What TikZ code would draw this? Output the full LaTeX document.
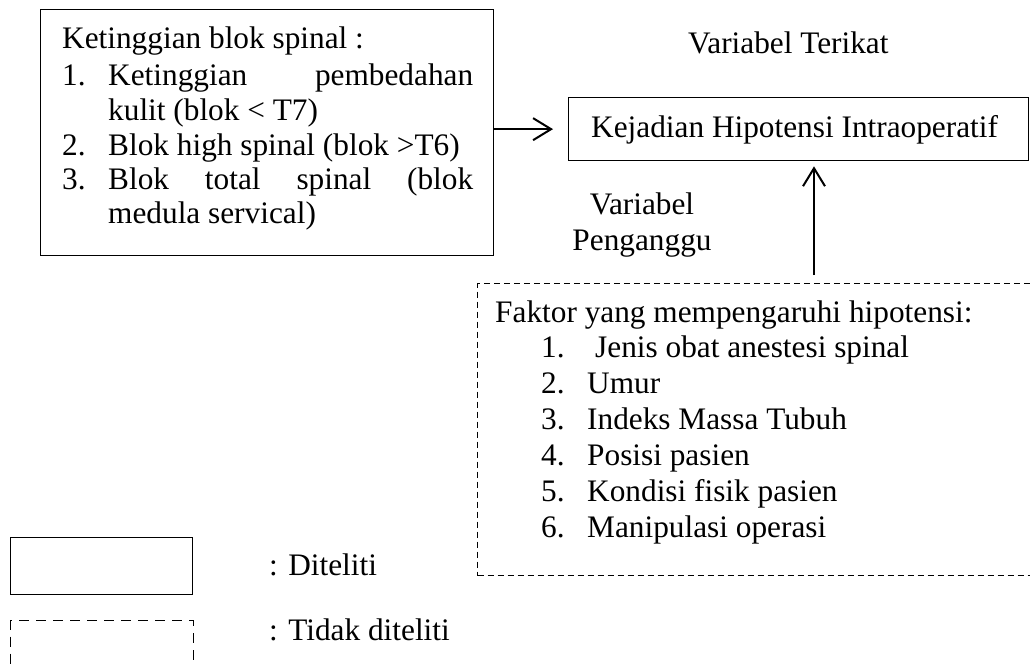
\documentclass[tikz,border=0pt]{standalone}
\usepackage{fontspec}
\setmainfont{Liberation Serif}
\usetikzlibrary{arrows.meta}
\begin{document}
\begin{tikzpicture}[x=1pt,y=-1pt,
  txt/.style={anchor=base west, inner sep=0pt, font=\fontsize{31.3}{36}\selectfont},
  box/.style={draw, line width=1.3pt, inner sep=0pt, anchor=north west},
  dbox/.style={draw, line width=1.1pt, dash pattern=on 6pt off 4pt, inner sep=0pt, anchor=north west},
  ldbox/.style={draw, line width=1.3pt, dash pattern=on 10pt off 7pt, inner sep=0pt, anchor=north west},
  arr/.style={line width=2pt, -{Straight Barb[length=18pt,width=22pt,line width=2pt]}}
]
\path[use as bounding box, clip] (0,0) rectangle (1030,665);
% boxes
\node[box, minimum width=453pt, minimum height=246pt] (lb) at (40,9) {};
\node[box, minimum width=460pt, minimum height=63pt] (rb) at (568,97) {};
\node[dbox, minimum width=560pt, minimum height=292pt] (fb) at (477,283) {};
\node[box, minimum width=182pt, minimum height=57pt] (lg1) at (10,537) {};
\node[ldbox, minimum width=183pt, minimum height=60pt] (lg2) at (10,620) {};
% left box text
\node[txt] (l0) at (62,48) {Ketinggian blok spinal :};
\node[txt] (l1n) at (62,85) {1.};
\node[txt] (l1) at (108,85) {\makebox[365pt][s]{Ketinggian pembedahan}};
\node[txt] (l1b) at (108,120) {kulit (blok < T7)};
\node[txt] (l2n) at (62,155) {2.};
\node[txt] (l2) at (108,155) {Blok high spinal (blok >T6)};
\node[txt] (l3n) at (62,189) {3.};
\node[txt] (l3) at (108,189) {\makebox[365pt][s]{Blok total spinal (blok}};
\node[txt] (l3b) at (108,223) {medula servical)};
% right texts
\node[txt] (vt) at (688,53) {Variabel Terikat};
\node[txt] (kj) at (591,137) {Kejadian Hipotensi Intraoperatif};
\node[txt, anchor=base] (vp1) at (642,214) {Variabel};
\node[txt, anchor=base] (vp2) at (642,250) {Penganggu};
% factor list
\node[txt] (f0) at (495,322) {Faktor yang mempengaruhi hipotensi:};
\node[txt] (f1n) at (541,357) {1.};
\node[txt] (f1) at (595,357) {Jenis obat anestesi spinal};
\node[txt] (f2n) at (541,393) {2.};
\node[txt] (f2) at (587,393) {Umur};
\node[txt] (f3n) at (541,429) {3.};
\node[txt] (f3) at (587,429) {Indeks Massa Tubuh};
\node[txt] (f4n) at (541,465) {4.};
\node[txt] (f4) at (587,465) {Posisi pasien};
\node[txt] (f5n) at (541,501) {5.};
\node[txt] (f5) at (587,501) {Kondisi fisik pasien};
\node[txt] (f6n) at (541,537) {6.};
\node[txt] (f6) at (587,537) {Manipulasi operasi};
% legend
\node[txt] (d1) at (269,575) {: Diteliti};
\node[txt] (d2) at (269,640) {: Tidak diteliti};
% arrows
\draw[arr] (lb.east |- rb.west) -- ([xshift=-15pt]rb.west);
\coordinate (ua) at (814,283);
\draw[arr] ([yshift=8pt]ua) -- ([yshift=-5pt]ua |- rb.south);
\end{tikzpicture}
\end{document}
